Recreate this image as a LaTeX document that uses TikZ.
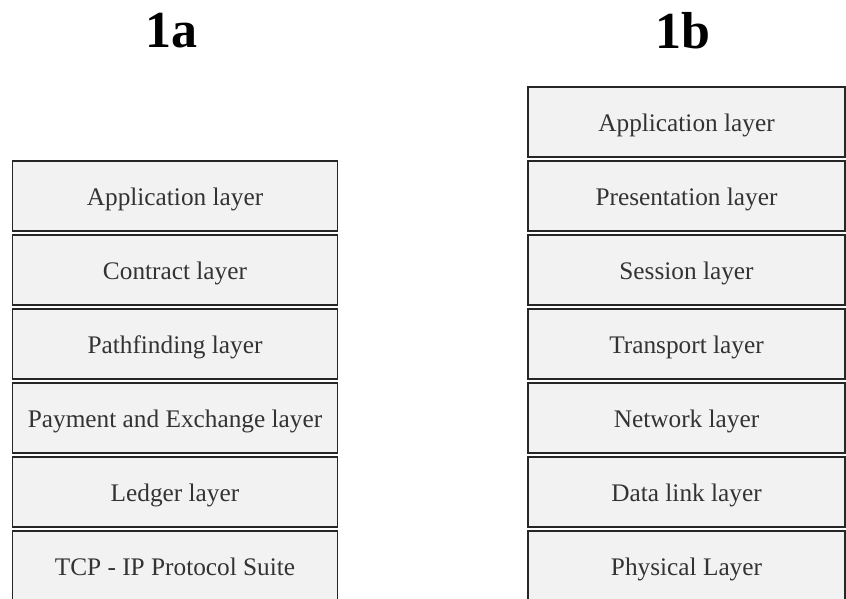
\documentclass[tikz,border=0pt]{standalone}
\usepackage{fontspec}
\setmainfont{Liberation Serif}
\begin{document}
\begin{tikzpicture}[x=1pt,y=-1pt,
  layerbox/.style={draw=black!85, line width=1.6pt, fill=black!5, text=black!80,
    minimum height=70pt, inner sep=0pt, text height=19.5pt, text depth=0pt,
    font=\fontsize{25.3}{28}\selectfont},
  leftbox/.style={layerbox, minimum width=325pt},
  rightbox/.style={layerbox, minimum width=317pt},
  title/.style={font=\fontsize{52}{56}\selectfont\bfseries, inner sep=0pt}]
\useasboundingbox (0,0) rectangle (846,599);
\clip (0,0) rectangle (846,599);
\node[title] (ta) at (171,31) {1a};
\node[title] (tb) at (683,31) {1b};
% left stack
\node[leftbox] (a1) at (175,196) {Application layer};
\node[leftbox] (a2) at (175,270) {Contract layer};
\node[leftbox] (a3) at (175,344) {Pathfinding layer};
\node[leftbox] (a4) at (175,418) {Payment and Exchange layer};
\node[leftbox] (a5) at (175,492) {Ledger layer};
\node[leftbox] (a6) at (175,566) {TCP - IP Protocol Suite};
% right stack
\node[rightbox] (b1) at (686.5,122) {Application layer};
\node[rightbox] (b2) at (686.5,196) {Presentation layer};
\node[rightbox] (b3) at (686.5,270) {Session layer};
\node[rightbox] (b4) at (686.5,344) {Transport layer};
\node[rightbox] (b5) at (686.5,418) {Network layer};
\node[rightbox] (b6) at (686.5,492) {Data link layer};
\node[rightbox] (b7) at (686.5,566) {Physical Layer};
\end{tikzpicture}
\end{document}
